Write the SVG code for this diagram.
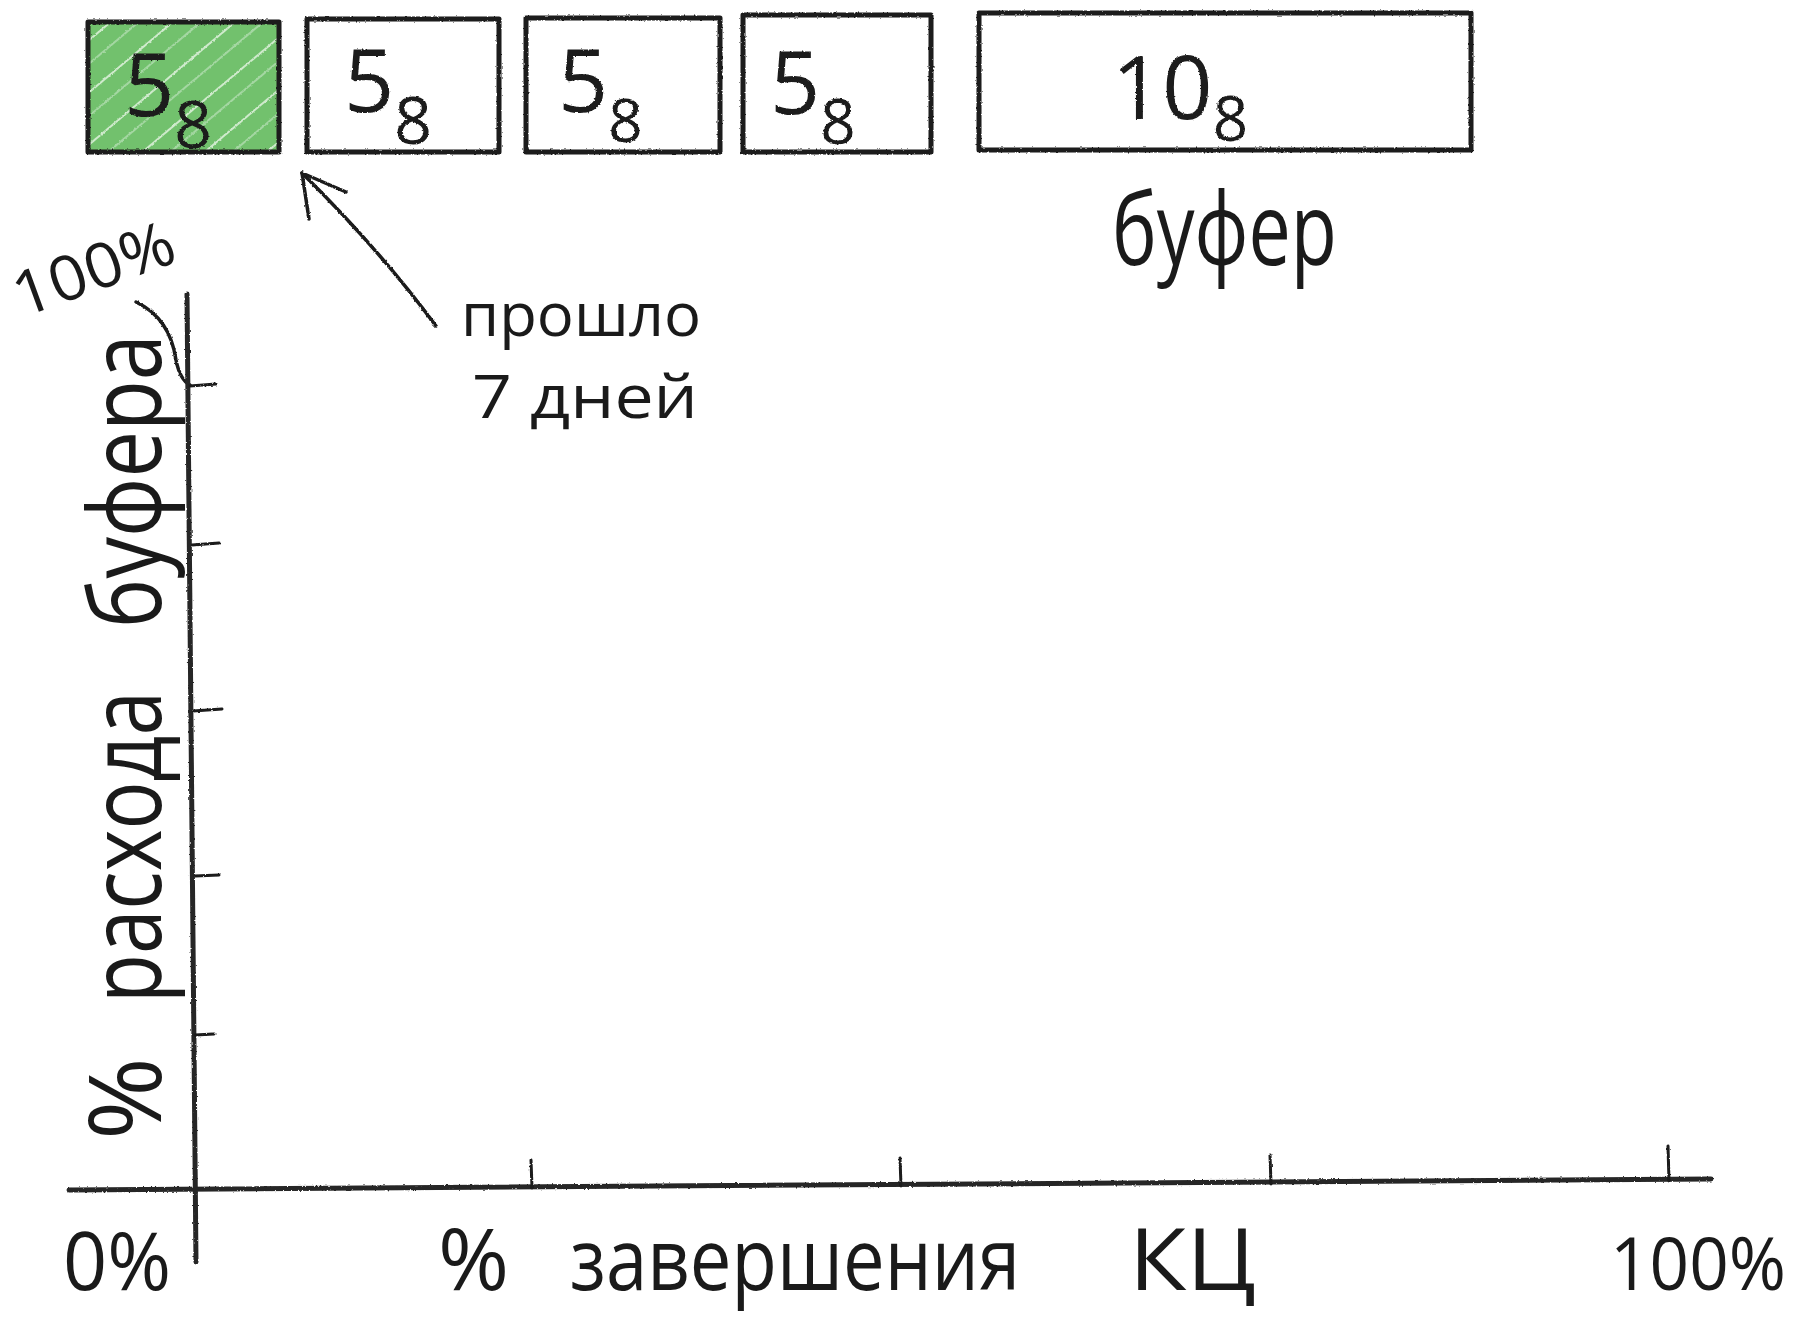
<svg xmlns="http://www.w3.org/2000/svg" width="1807" height="1320" viewBox="0 0 1807 1320">
<style>
.box{stroke:#1a1a1a;stroke-width:5;stroke-linejoin:round}
.ln{fill:none;stroke:#1a1a1a;stroke-width:3.5;stroke-linecap:round;stroke-linejoin:round}
.ax{fill:none;stroke:#262626;stroke-width:5;stroke-linecap:round}
.tk{fill:none;stroke:#1a1a1a;stroke-width:3;stroke-linecap:round}
.t{font-family:"Open Sans","Liberation Sans",sans-serif;font-weight:400;fill:#1a1a1a}
</style>
<defs>
<filter id="rough" x="-5%" y="-5%" width="110%" height="110%">
<feTurbulence type="fractalNoise" baseFrequency="0.5" numOctaves="1" seed="3" result="n"/>
<feDisplacementMap in="SourceGraphic" in2="n" scale="2.5" xChannelSelector="R" yChannelSelector="G"/>
</filter>
<pattern id="hatch" width="40" height="40" patternUnits="userSpaceOnUse" patternTransform="rotate(-40)">
<rect width="40" height="40" fill="#72c16d"/>
<line x1="0" y1="8" x2="40" y2="8" stroke="#e6f4e4" stroke-width="2" opacity="0.8"/>
<line x1="0" y1="26" x2="40" y2="26" stroke="#d2ead0" stroke-width="1.5" opacity="0.7"/>
</pattern>
</defs>
<rect width="1807" height="1320" fill="#ffffff"/>

<g id="boxes" filter="url(#rough)">
<g id="box1">
<rect x="88" y="22" width="191" height="130" class="box" style="fill:url(#hatch)"/>
<text class="t" x="124" y="116" font-size="88">5<tspan font-size="66" dy="32">8</tspan></text>
</g>
<g id="box2">
<rect x="307" y="19" width="192" height="133" class="box" style="fill:none"/>
<text class="t" x="344" y="112" font-size="88">5<tspan font-size="66" dy="32">8</tspan></text>
</g>
<g id="box3">
<rect x="526" y="18" width="194" height="134" class="box" style="fill:none"/>
<text class="t" x="558" y="112" font-size="88">5<tspan font-size="60" dy="30">8</tspan></text>
</g>
<g id="box4">
<rect x="743" y="15" width="188" height="137" class="box" style="fill:none"/>
<text class="t" x="770" y="114" font-size="88">5<tspan font-size="62" dy="30">8</tspan></text>
</g>
<g id="box5">
<rect x="979" y="13" width="492" height="137" class="box" style="fill:none"/>
<text class="t" x="1112" y="119" font-size="88">10<tspan font-size="62" dy="22">8</tspan></text>
</g>
</g>

<g id="labels">
<text class="t" x="1112" y="265" font-size="100" textLength="225" lengthAdjust="spacingAndGlyphs">буфер</text>
<text class="t" x="461" y="336" font-size="60" textLength="240" lengthAdjust="spacingAndGlyphs">прошло</text>
<text class="t" x="472" y="418" font-size="60" textLength="226" lengthAdjust="spacingAndGlyphs">7 дней</text>
<text class="t" font-size="62" textLength="168" lengthAdjust="spacingAndGlyphs" transform="translate(22,318) rotate(-20)">100%</text>
<g transform="translate(161,1140) rotate(-90)">
<text class="t" font-size="100"><tspan x="0" y="0">%</tspan><tspan x="137" y="0" textLength="312" lengthAdjust="spacingAndGlyphs">расхода</tspan><tspan x="512" y="0" textLength="294" lengthAdjust="spacingAndGlyphs">буфера</tspan></text>
</g>
<text class="t" x="63" y="1290" font-size="80" textLength="108" lengthAdjust="spacingAndGlyphs">0%</text>
<text class="t" x="438" y="1290" font-size="86">%</text>
<text class="t" x="570" y="1290" font-size="86" textLength="450" lengthAdjust="spacingAndGlyphs">завершения</text>
<text class="t" x="1129" y="1290" font-size="86" textLength="127" lengthAdjust="spacingAndGlyphs">КЦ</text>
<text class="t" x="1610" y="1290" font-size="74" textLength="176" lengthAdjust="spacingAndGlyphs">100%</text>
</g>

<g id="connectors" filter="url(#rough)">
<path class="ln" d="M436 326 Q380 250 302 173"/>
<path class="ln" d="M346 192 L302 173 L309 219"/>
<path class="ln" d="M136 302 Q170 318 176 360 Q180 380 190 385"/>
<path class="ax" d="M187 294 L196 1262"/>
<path class="ax" d="M69 1190 L1711 1179"/>
<path class="tk" d="M190 386 L216 384 M192 545 L219 543 M193 711 L222 709 M195 876 L219 875 M195 1035 L214 1034"/>
<path class="tk" d="M532 1188 L531 1160 M901 1186 L900 1158 M1271 1184 L1270 1155 M1669 1181 L1668 1146"/>
</g>
</svg>
